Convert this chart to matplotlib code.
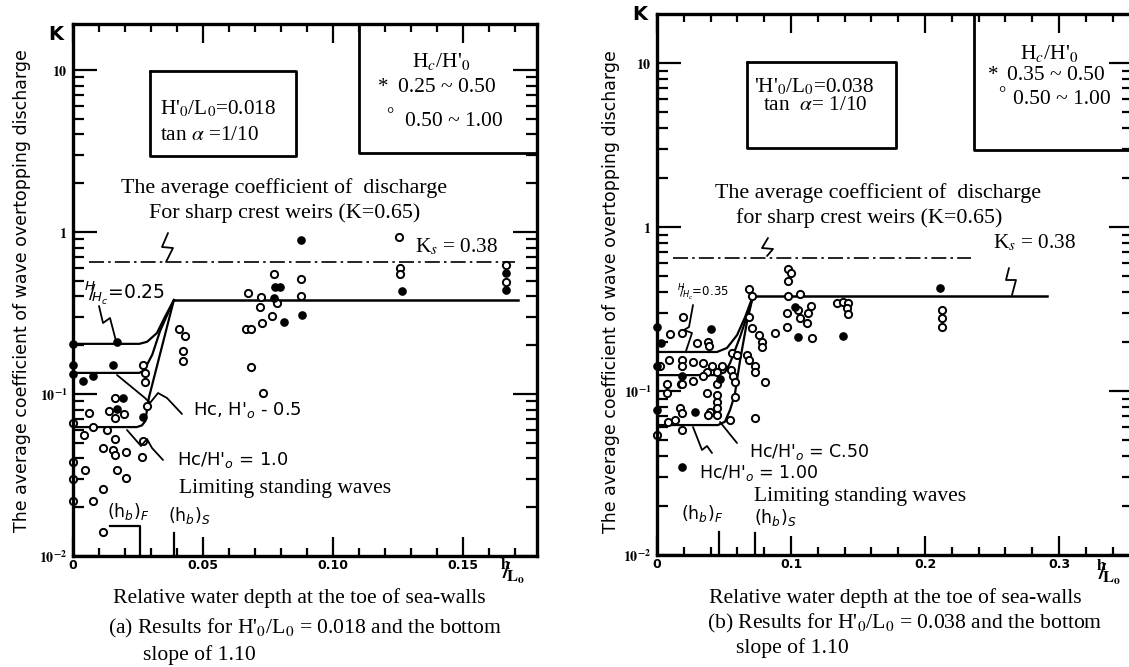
import numpy as np
import matplotlib.pyplot as plt
from matplotlib.lines import Line2D
from matplotlib.ticker import FixedLocator, NullFormatter, LogLocator

plt.rcParams['mathtext.fontset'] = 'stix'

W, H = 1129, 667

#%% panel (a)  H'0/L0 = 0.018
a_fill_x = [0.0777, 0.0796, 0.0773, 0.0812, 0.0, 0.0169, 0.0154, 0.0, 0.0, 0.0038,
            0.0077, 0.0877, 0.088, 0.1265, 0.0192, 0.0169, 0.0269, 0.1665, 0.1665]
a_fill_y = [0.457, 0.457, 0.392, 0.278, 0.204, 0.21, 0.151, 0.151, 0.133, 0.12,
            0.129, 0.89, 0.308, 0.433, 0.094, 0.081, 0.072, 0.558, 0.438]
a_open_x = [0.0773, 0.0673, 0.0723, 0.0719, 0.0785, 0.0765, 0.0727, 0.0665, 0.0685, 0.0408,
            0.0431, 0.0423, 0.0423, 0.0685, 0.0731, 0.0269, 0.0277, 0.0277, 0.1254, 0.0877,
            0.0877, 0.1258, 0.1258, 0.0162, 0.0285, 0.0062, 0.0138, 0.0196, 0.0162, 0.0,
            0.0077, 0.0131, 0.0042, 0.0162, 0.0269, 0.0115, 0.0154, 0.0204, 0.0162, 0.0265,
            0.0, 0.0046, 0.0169, 0.0204, 0.0, 0.0115, 0.0, 0.0077, 0.0115, 0.1665, 0.1665]
a_open_y = [0.55, 0.42, 0.397, 0.344, 0.364, 0.303, 0.274, 0.252, 0.252, 0.252,
            0.228, 0.184, 0.160, 0.147, 0.101, 0.151, 0.135, 0.119, 0.93, 0.51,
            0.40, 0.60, 0.55, 0.0945, 0.0843, 0.0764, 0.078, 0.0753, 0.071, 0.066,
            0.063, 0.060, 0.0558, 0.0527, 0.0513, 0.0464, 0.0453, 0.0438, 0.0423, 0.0408,
            0.038, 0.034, 0.034, 0.0303, 0.0298, 0.026, 0.0219, 0.0219, 0.0141, 0.625, 0.49]

a_c25_x = [0, 0.0255, 0.0285, 0.0323, 0.0354, 0.0388]
a_c25_y = [0.204, 0.204, 0.21, 0.238, 0.30, 0.38]
a_c50_x = [0, 0.0255, 0.027, 0.0285, 0.0305, 0.0335, 0.0388]
a_c50_y = [0.135, 0.135, 0.139, 0.152, 0.175, 0.245, 0.38]
a_c100_x = [0, 0.0245, 0.0265, 0.0278, 0.0292, 0.0388]
a_c100_y = [0.0625, 0.0625, 0.064, 0.068, 0.095, 0.38]
a_ks_x, a_ks = [0.0388, 0.171], 0.38
a_weir_x, a_weir = [0.0062, 0.170], 0.65
a_hbF_x, a_hbF_y = [0.0142, 0.0258, 0.0258], [0.0153, 0.0153, 0.01]
a_hbS_x, a_hbS_y = [0.039, 0.039], [0.01, 0.0139]

#%% panel (b)  H'0/L0 = 0.038
b_fill_x = [0.103, 0.105, 0.1388, 0.211, 0.0403, 0.0, 0.003, 0.0, 0.019, 0.047,
            0.028, 0.0187, 0.0]
b_fill_y = [0.325, 0.214, 0.216, 0.425, 0.239, 0.245, 0.196, 0.142, 0.123, 0.118,
            0.0745, 0.0344, 0.077]
b_open_x = [0.0978, 0.1, 0.0978, 0.069, 0.0709, 0.1067, 0.0978, 0.105, 0.115, 0.1127,
            0.097, 0.1067, 0.112, 0.097, 0.088, 0.1157, 0.134, 0.139, 0.1425, 0.1418,
            0.1425, 0.2127, 0.2127, 0.2127, 0.0194, 0.0187, 0.0097, 0.038, 0.03, 0.039,
            0.069, 0.071, 0.076, 0.078, 0.078, 0.056, 0.06, 0.067, 0.069, 0.073,
            0.073, 0.0806, 0.009, 0.019, 0.027, 0.034, 0.002, 0.019, 0.041, 0.0485,
            0.0373, 0.045, 0.055, 0.057, 0.027, 0.034, 0.018, 0.045, 0.058, 0.0075,
            0.0075, 0.019, 0.037, 0.045, 0.045, 0.045, 0.0395, 0.017, 0.019, 0.038,
            0.045, 0.058, 0.008, 0.0134, 0.0545, 0.073, 0.0187, 0.0]
b_open_y = [0.555, 0.525, 0.469, 0.419, 0.38, 0.39, 0.38, 0.312, 0.328, 0.3,
            0.3, 0.279, 0.26, 0.245, 0.226, 0.21, 0.344, 0.35, 0.344, 0.32,
            0.295, 0.312, 0.279, 0.245, 0.282, 0.226, 0.223, 0.199, 0.196, 0.188,
            0.282, 0.242, 0.22, 0.2, 0.186, 0.17, 0.166, 0.166, 0.154, 0.142,
            0.13, 0.113, 0.154, 0.154, 0.150, 0.148, 0.142, 0.142, 0.142, 0.142,
            0.13, 0.13, 0.135, 0.123, 0.115, 0.123, 0.11, 0.111, 0.113, 0.11,
            0.097, 0.11, 0.097, 0.095, 0.0857, 0.0787, 0.0745, 0.0787, 0.0735, 0.071,
            0.071, 0.0915, 0.065, 0.0666, 0.067, 0.068, 0.058, 0.0536]

b_c35_x = [0, 0.0448, 0.0522, 0.0597, 0.0657, 0.0716]
b_c35_y = [0.173, 0.173, 0.183, 0.219, 0.282, 0.38]
b_c50_x = [0, 0.0433, 0.0507, 0.0545, 0.062, 0.0694, 0.0716]
b_c50_y = [0.125, 0.125, 0.13, 0.148, 0.214, 0.326, 0.38]
b_c100_x = [0, 0.0455, 0.0507, 0.0545, 0.058, 0.062, 0.067, 0.0716]
b_c100_y = [0.062, 0.062, 0.065, 0.0766, 0.0945, 0.154, 0.26, 0.38]
b_ks_x, b_ks = [0.073, 0.291], 0.38
b_weir_x, b_weir = [0.012, 0.234], 0.65
b_hbF_x, b_hbF_y = [0.046, 0.046], [0.01, 0.0138]
b_hbS_x, b_hbS_y = [0.073, 0.073], [0.01, 0.0136]

ylabels = [r'$\mathbf{10^{-2}}$', r'$\mathbf{10^{-1}}$', r'$\mathbf{1}$', r'$\mathbf{10}$']

#%%
fig = plt.figure(figsize=(W / 100, H / 100), dpi=100)


def ftext(px, py, s, **kw):
    fig.text(px / W, 1 - py / H, s, **kw)


def leader(pts, lw=1.3):
    xs = [p[0] / W for p in pts]
    ys = [1 - p[1] / H for p in pts]
    fig.add_artist(Line2D(xs, ys, color='k', lw=lw, solid_capstyle='round'))


def frame(ax, xmax, ymax, xmajor, xminor, xlabels):
    ax.set_yscale('log')
    ax.set_xlim(0, xmax)
    ax.set_ylim(0.01, ymax)
    ax.xaxis.set_major_locator(FixedLocator(xmajor))
    ax.xaxis.set_minor_locator(FixedLocator(xminor))
    ax.set_xticklabels(xlabels, fontweight='bold', fontsize=9, family='DejaVu Sans')
    ax.yaxis.set_major_locator(FixedLocator([0.01, 0.1, 1, 10]))
    ax.yaxis.set_minor_locator(LogLocator(subs=range(2, 10)))
    ax.yaxis.set_minor_formatter(NullFormatter())
    ax.set_yticklabels(ylabels, fontsize=10)
    ax.tick_params(which='both', direction='in', top=True, right=True, width=1.6, color='k')
    ax.tick_params(axis='y', which='major', length=17, pad=4)
    ax.tick_params(axis='y', which='minor', length=8)
    ax.tick_params(axis='x', which='major', length=14, pad=2)
    ax.tick_params(axis='x', which='minor', length=6)
    for s in ax.spines.values():
        s.set_linewidth(2.4)


def draw(ax, fx, fy, ox, oy, curves, ks_x, ks, weir_x, weir, hb):
    for cx, cy in curves:
        ax.plot(cx, cy, color='k', lw=1.6)
    ax.plot(ks_x, [ks, ks], color='k', lw=1.8)
    ax.plot(weir_x, [weir, weir], color='k', lw=1.2, ls=(0, (9, 2.5, 1.5, 2.5)))
    for hx, hy in hb:
        ax.plot(hx, hy, color='k', lw=1.6)
    ax.plot(ox, oy, 'o', ms=5.2, mfc='white', mec='k', mew=1.4, ls='none', clip_on=False)
    ax.plot(fx, fy, 'o', ms=5.2, mfc='k', mec='k', ls='none', clip_on=False)


# panel (a)
ax_a = fig.add_axes([73 / W, 1 - 556 / H, (537 - 73) / W, (556 - 24) / H])
frame(ax_a, 0.1785, 10 ** 1.284, [0, 0.05, 0.10, 0.15],
      np.arange(0, 0.18, 0.01), ['0', '0.05', '0.10', '0.15'])
draw(ax_a, a_fill_x, a_fill_y, a_open_x, a_open_y,
     [(a_c25_x, a_c25_y), (a_c50_x, a_c50_y), (a_c100_x, a_c100_y)],
     a_ks_x, a_ks, a_weir_x, a_weir, [(a_hbF_x, a_hbF_y), (a_hbS_x, a_hbS_y)])

# panel (b)
ax_b = fig.add_axes([657 / W, 1 - 555 / H, (1133 - 657) / W, (555 - 14) / H])
frame(ax_b, 0.3552, 10 ** 1.299, [0, 0.1, 0.2, 0.3],
      np.arange(0, 0.36, 0.02), ['0', '0.1', '0.2', '0.3'])
draw(ax_b, b_fill_x, b_fill_y, b_open_x, b_open_y,
     [(b_c35_x, b_c35_y), (b_c50_x, b_c50_y), (b_c100_x, b_c100_y)],
     b_ks_x, b_ks, b_weir_x, b_weir, [(b_hbF_x, b_hbF_y), (b_hbS_x, b_hbS_y)])

serif = dict(family='Liberation Serif', va='center')
hand = dict(family='DejaVu Sans', va='center', math_fontfamily='dejavusans')
ylab = 'The average coefficient of wave overtopping discharge'
hl = r'$\mathbf{^{h}\!\!\!/\!_{L_o}}$'

#%% texts (a)
ftext(22, 291, ylab, rotation=90, ha='center', va='center', family='DejaVu Sans', fontsize=12.5)
ftext(56, 34, 'K', ha='center', va='center', fontsize=14, fontweight='bold', family='DejaVu Sans')
ftext(513, 571, hl, ha='center', va='center', fontsize=17)
leader([(150, 71), (296, 71), (296, 156), (150, 156), (150, 71)], lw=2)
ftext(160, 109, "H'$_0$/L$_0$=0.018", fontsize=15.3, **serif)
ftext(160, 135, r'tan $\alpha$ =1/10', fontsize=15.3, **serif)
leader([(359, 24), (359, 153), (537, 153)], lw=2)
ftext(441, 62, "H$_c$/H'$_0$", ha='center', fontsize=15.5, **serif)
ftext(378, 88, '*', fontsize=15, **serif)
ftext(398, 88, '0.25 ~ 0.50', fontsize=15.5, **serif)
ftext(386, 116, '°', fontsize=13, **serif)
ftext(405, 122, '0.50 ~ 1.00', fontsize=15.5, **serif)
ftext(284, 188, 'The average coefficient of  discharge', ha='center', fontsize=15.8, **serif)
ftext(285, 213, 'For sharp crest weirs (K=0.65)', ha='center', fontsize=15.8, **serif)
ftext(415, 247, 'K$_s$ = 0.38', fontsize=15.3, **serif)
ftext(84, 293, r'$^{H}\!\!/\!_{H_c}$=0.25', fontsize=13.5, **hand)
ftext(193, 410, r"Hc, H$'_o$ - 0.5", fontsize=13, **hand)
ftext(177, 460, r"Hc/H$'_o$ = 1.0", fontsize=13, **hand)
ftext(179, 488, 'Limiting standing waves', fontsize=15.5, **serif)
ftext(107, 511, r'(h$_b$)$_F$', fontsize=12.5, **hand)
ftext(168, 515, r'(h$_b$)$_S$', fontsize=12.5, **hand)
leader([(168, 233), (162, 247), (173, 248), (166, 262)])
leader([(99, 306), (103, 323), (110, 318), (116, 341)])
leader([(117, 375), (145, 398), (150, 403), (158, 393), (167, 398), (182, 414)])
leader([(127, 430), (141, 446), (147, 439), (152, 448), (163, 460)])
ftext(113, 598, 'Relative water depth at the toe of sea-walls', fontsize=15.6, **serif)
ftext(108, 628, "(a) Results for H'$_0$/L$_0$ = 0.018 and the bottom", fontsize=15.6, **serif)
ftext(143, 655, 'slope of 1.10', fontsize=15.6, **serif)

#%% texts (b)
ftext(611, 292, ylab, rotation=90, ha='center', va='center', family='DejaVu Sans', fontsize=12.5)
ftext(640, 15, 'K', ha='center', va='center', fontsize=14, fontweight='bold', family='DejaVu Sans')
ftext(1109, 572, hl, ha='center', va='center', fontsize=17)
leader([(747, 62), (896, 62), (896, 148), (747, 148), (747, 62)], lw=2)
ftext(754, 87, "'H'$_0$/L$_0$=0.038", fontsize=15.3, **serif)
ftext(763, 106, r'tan  $\alpha$= 1/10', fontsize=15.3, **serif)
leader([(974, 14), (974, 150), (1129, 150)], lw=2)
ftext(1049, 53, "H$_c$/H'$_0$", ha='center', fontsize=15.5, **serif)
ftext(988, 75, '*', fontsize=15, **serif)
ftext(1007, 75, '0.35 ~ 0.50', fontsize=15.5, **serif)
ftext(998, 95, '°', fontsize=13, **serif)
ftext(1013, 100, '0.50 ~ 1.00', fontsize=15.5, **serif)
ftext(715, 193, 'The average coefficient of  discharge', fontsize=15.8, **serif)
ftext(736, 218, 'for sharp crest weirs (K=0.65)', fontsize=15.8, **serif)
ftext(993, 243, 'K$_s$ = 0.38', fontsize=15.3, **serif)
ftext(677, 293, r'$^{H}\!\!/\!_{H_c}$=0.35', fontsize=8.5, **hand)
ftext(749, 452, r"Hc/H$'_o$ = C.50", fontsize=12.5, **hand)
ftext(699, 473, r"Hc/H$'_o$ = 1.00", fontsize=12.5, **hand)
ftext(754, 497, 'Limiting standing waves', fontsize=15.5, **serif)
ftext(681, 513, r'(h$_b$)$_F$', fontsize=12.5, **hand)
ftext(754, 517, r'(h$_b$)$_S$', fontsize=12.5, **hand)
leader([(768, 238), (762, 248), (773, 249), (767, 256)])
leader([(1009, 268), (1006, 280), (1016, 280), (1012, 295)])
leader([(693, 305), (689, 327), (684, 330), (692, 333), (686, 351)])
leader([(693, 427), (702, 450), (707, 446), (712, 453)])
leader([(720, 422), (737, 443)])
ftext(709, 598, 'Relative water depth at the toe of sea-walls', fontsize=15.6, **serif)
ftext(707, 623, "(b) Results for H'$_0$/L$_0$ = 0.038 and the bottom", fontsize=15.6, **serif)
ftext(736, 648, 'slope of 1.10', fontsize=15.6, **serif)

fig.savefig('out.png', dpi=100)
